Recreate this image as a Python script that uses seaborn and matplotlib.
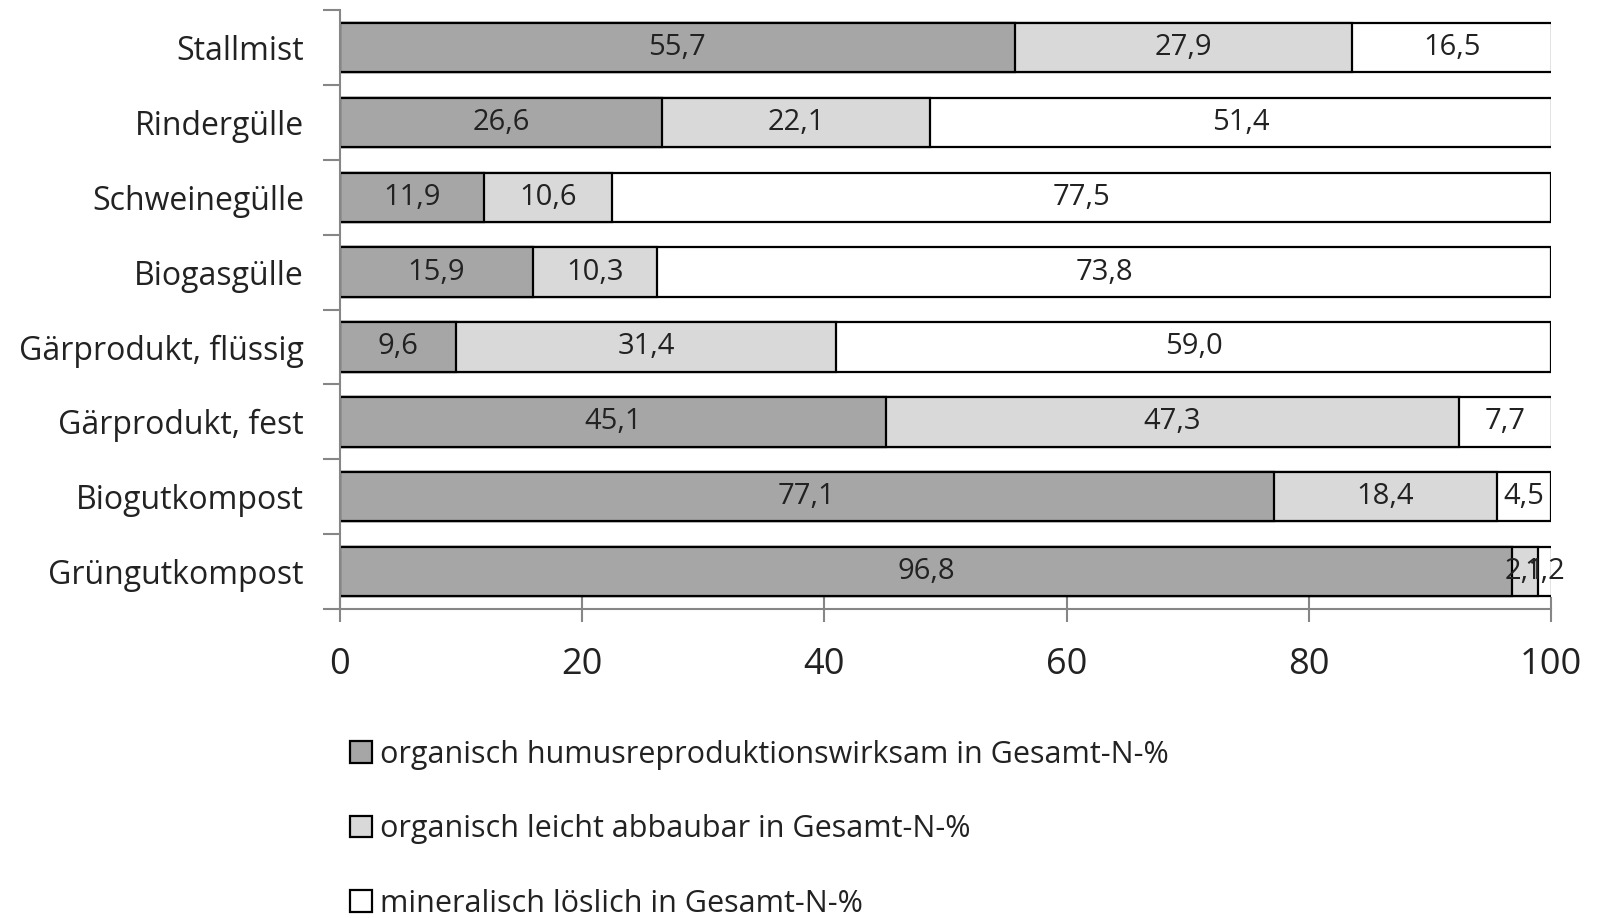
import numpy as np
import pandas as pd
import seaborn as sns
import matplotlib
matplotlib.use('Agg')
import matplotlib.pyplot as plt
from matplotlib.ticker import FixedLocator

# data (Gesamt-N-%)
categories = ['Stallmist', 'Rindergülle', 'Schweinegülle', 'Biogasgülle',
              'Gärprodukt, flüssig', 'Gärprodukt, fest', 'Biogutkompost', 'Grüngutkompost']
humus = [55.7, 26.6, 11.9, 15.9, 9.6, 45.1, 77.1, 96.8]
leicht = [27.9, 22.1, 10.6, 10.3, 31.4, 47.3, 18.4, 2.1]
mineral = [16.5, 51.4, 77.5, 73.8, 59.0, 7.7, 4.5, 1.2]
series_names = ['organisch humusreproduktionswirksam in Gesamt-N-%',
                'organisch leicht abbaubar in Gesamt-N-%',
                'mineralisch löslich in Gesamt-N-%']
colors = ['#a6a6a6', '#d9d9d9', '#ffffff']

sns.set_style('white')
plt.rcParams['font.family'] = ['Open Sans', 'DejaVu Sans']

df = pd.DataFrame({'cat': categories, 'humus': humus, 'leicht': leicht, 'mineral': mineral})
df['c1'] = df['humus']
df['c2'] = df['humus'] + df['leicht']
df['c3'] = df['c2'] + df['mineral']

fig = plt.figure(figsize=(15.99, 9.18), dpi=100)
ax = fig.add_axes([0.2126, 0.3366, 0.7574, 0.6524])

# layered cumulative bars -> stacked look
for col, c in zip(['c3', 'c2', 'c1'], colors[::-1]):
    sns.barplot(data=df, x=col, y='cat', orient='h', color=c, saturation=1,
                edgecolor='black', linewidth=1.6, width=0.66, ax=ax)

# segment labels
for i in range(len(categories)):
    left = 0
    for v in (humus[i], leicht[i], mineral[i]):
        ax.text(left + v / 2, i, f'{v:.1f}'.replace('.', ','), ha='center', va='center',
                fontsize=21, color='#222222')
        left += v

ax.set_xlim(0, 100)
ax.set_xticks([0, 20, 40, 60, 80, 100])
ax.set_xlabel('')
ax.set_ylabel('')
for s in ['top', 'right']:
    ax.spines[s].set_visible(False)
for s in ['left', 'bottom']:
    ax.spines[s].set_color('#868686')
    ax.spines[s].set_linewidth(1.5)

ax.tick_params(axis='x', bottom=True, direction='inout', length=18, width=1.5, color='#868686',
               labelsize=26, pad=18, labelcolor='#222222')
ax.tick_params(axis='y', which='major', left=True, length=0, labelsize=23, pad=26,
               labelcolor='#222222')
ax.yaxis.set_minor_locator(FixedLocator(np.arange(-0.5, len(categories), 1.0)))
ax.tick_params(axis='y', which='minor', left=True, direction='out', length=12, width=1.5,
               color='#868686')

handles = [ax.containers[2], ax.containers[1], ax.containers[0]]
fig.legend(handles, series_names, loc='upper left', bbox_to_anchor=(0.219, 0.194),
           frameon=False, fontsize=22, labelspacing=1.45, handlelength=0.72,
           handleheight=0.72, handletextpad=0.25, borderaxespad=0, borderpad=0,
           labelcolor='#222222')

fig.savefig('out.png', dpi=100)
